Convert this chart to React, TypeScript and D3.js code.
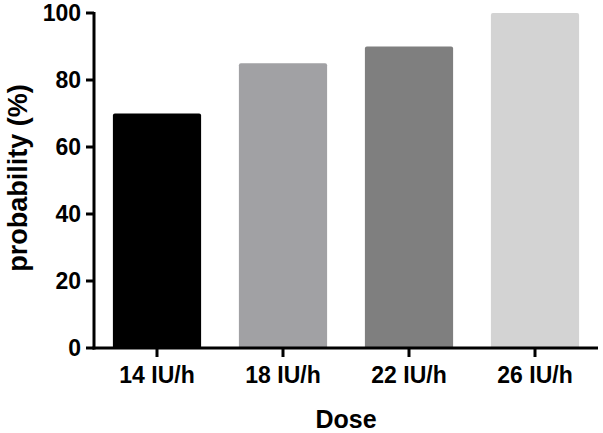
import React from "react";
import * as d3 from "d3";

const categories = ["14 IU/h", "18 IU/h", "22 IU/h", "26 IU/h"];
const probability = [70, 85, 90, 100];
const barColors = ["#000000", "#a1a1a4", "#7f7f7f", "#d3d3d3"];
const yTicks = [0, 20, 40, 60, 80, 100];

const W = 603;
const H = 433;
const left = 94;
const right = 598;
const top = 13;
const bottom = 348;
const font = "'Liberation Sans', Arial, Helvetica, sans-serif";

export default function App() {
  const x = d3
    .scaleBand<string>()
    .domain(categories)
    .range([left, right])
    .paddingInner(0.3)
    .paddingOuter(0.15);
  const y = d3.scaleLinear().domain([0, 100]).range([bottom, top]);

  const r = 2;
  const barPath = (cx: number, w: number, v: number) => {
    const p = d3.path();
    const y0 = y(0);
    const y1 = y(v);
    p.moveTo(cx, y0);
    p.lineTo(cx, y1 + r);
    p.arcTo(cx, y1, cx + r, y1, r);
    p.lineTo(cx + w - r, y1);
    p.arcTo(cx + w, y1, cx + w, y1 + r, r);
    p.lineTo(cx + w, y0);
    p.closePath();
    return p.toString();
  };

  return (
    <svg
      width={W}
      height={H}
      style={{ position: "absolute", left: 0, top: 0, background: "#fff" }}
      fontFamily={font}
      fontWeight="bold"
    >
      {categories.map((c, i) => (
        <path key={c} d={barPath(x(c)!, x.bandwidth(), probability[i])} fill={barColors[i]} />
      ))}

      {/* y axis */}
      <line x1={left} x2={left} y1={top - 1} y2={bottom + 1.5} stroke="#000" strokeWidth={3} />
      {yTicks.map((t) => (
        <g key={t}>
          <line x1={left - 8} x2={left} y1={y(t)} y2={y(t)} stroke="#000" strokeWidth={3} />
          <text x={81} y={y(t)} dy="0.35em" textAnchor="end" fontSize={23} fill="#000">
            {t}
          </text>
        </g>
      ))}

      {/* x axis */}
      <line x1={left - 1.5} x2={right} y1={bottom} y2={bottom} stroke="#000" strokeWidth={3} />
      {categories.map((c) => {
        const cx = x(c)! + x.bandwidth() / 2;
        return (
          <g key={c}>
            <line x1={cx} x2={cx} y1={bottom} y2={bottom + 9} stroke="#000" strokeWidth={3} />
            <text x={cx} y={383} textAnchor="middle" fontSize={23} fill="#000">
              {c}
            </text>
          </g>
        );
      })}

      <text x={(left + right) / 2} y={428} textAnchor="middle" fontSize={25} fill="#000">
        Dose
      </text>
      <text
        transform={`translate(27, 178) rotate(-90)`}
        textAnchor="middle"
        fontSize={27}
        fill="#000"
      >
        probability (%)
      </text>
    </svg>
  );
}
